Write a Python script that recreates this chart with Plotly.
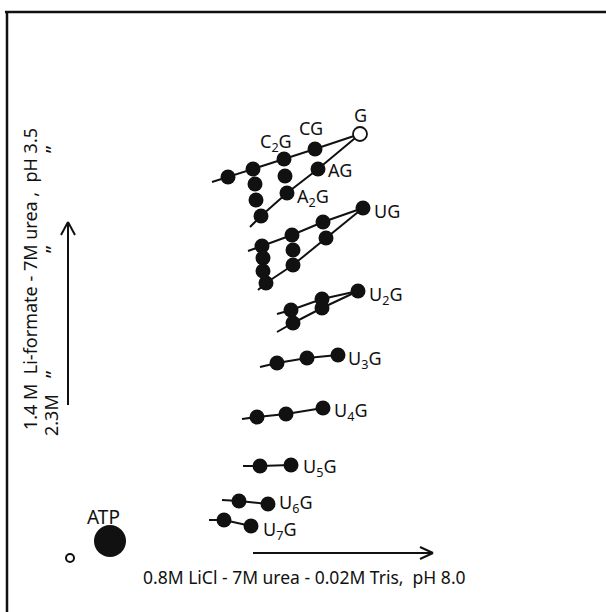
import plotly.graph_objects as go

# ---- data (positions on the fingerprint, in image units: x = 1st dimension, y = 2nd dimension, down = larger) ----
# oligonucleotide spots (filled)
spot_x = [228, 253, 284, 315, 318, 287, 261, 255, 256, 285,
          262, 292, 323, 363, 326, 293, 266, 263, 263, 293,
          291, 322, 322, 293, 358,
          277, 307, 338,
          257, 286, 323,
          260, 291,
          239, 268,
          224, 251]
spot_y = [177, 169, 159, 149, 169, 193, 216, 184, 200, 176,
          246, 235, 222, 208, 238, 265, 283, 258, 271, 250,
          310, 299, 308, 323, 291,
          363, 358, 355,
          417, 414, 408,
          466, 465,
          501, 504,
          520, 526]

# open marker for G
g_x = [360]
g_y = [134]

# connecting lines (each list: ordered points along a line)
lines = {
    "C_series": ([212, 228, 253, 284, 315, 360], [182, 177, 169, 159, 149, 134]),
    "A_series": ([360, 318, 287, 261, 250], [134, 169, 193, 216, 227]),
    "UG_upper": ([248, 262, 292, 323, 363], [251, 246, 235, 222, 208]),
    "UG_lower": ([258, 266, 293, 326, 363], [290, 283, 265, 238, 208]),
    "U2G_upper": ([277, 291, 322, 358], [314, 310, 299, 291]),
    "U2G_lower": ([277, 293, 322, 358], [332, 323, 308, 291]),
    "U3G": ([260, 277, 307, 338], [367, 363, 358, 355]),
    "U4G": ([242, 257, 286, 323], [419, 417, 414, 408]),
    "U5G": ([243, 260, 291], [466, 466, 465]),
    "U6G": ([222, 239, 268], [500, 501, 504]),
    "U7G": ([209, 224, 251], [520, 520, 526]),
}

# labels
label_text = ["G", "CG", "C<sub>2</sub>G", "AG", "A<sub>2</sub>G", "UG", "U<sub>2</sub>G",
              "U<sub>3</sub>G", "U<sub>4</sub>G", "U<sub>5</sub>G", "U<sub>6</sub>G", "U<sub>7</sub>G"]
label_x = [360, 311, 276, 326, 295, 372, 367, 346, 332, 301, 277, 261]
label_y = [115, 128, 142, 170, 197, 211, 295, 359, 411, 467, 503, 530]
label_anchor = ["center", "center", "center", "left", "left", "left", "left",
                "left", "left", "left", "left", "left"]

# markers (ATP and origin)
atp_x, atp_y = [110], [541]
origin_x, origin_y = [70], [558]

FONT = "Noto Sans"
INK = "#111111"

fig = go.Figure()

for name, (lx, ly) in lines.items():
    fig.add_trace(go.Scatter(x=lx, y=ly, mode="lines",
                             line=dict(color=INK, width=2), hoverinfo="skip"))

fig.add_trace(go.Scatter(x=spot_x, y=spot_y, mode="markers",
                         marker=dict(size=15, color=INK, line=dict(width=0))))
fig.add_trace(go.Scatter(x=g_x, y=g_y, mode="markers",
                         marker=dict(size=14, color="white", line=dict(width=1.8, color=INK))))
fig.add_trace(go.Scatter(x=atp_x, y=atp_y, mode="markers",
                         marker=dict(size=32, color=INK, line=dict(width=0))))
fig.add_trace(go.Scatter(x=origin_x, y=origin_y, mode="markers",
                         marker=dict(size=8, color="white", line=dict(width=2, color=INK))))

annotations = []
for t, x, y, a in zip(label_text, label_x, label_y, label_anchor):
    annotations.append(dict(x=x, y=y, xref="x", yref="y", text=t, showarrow=False,
                            xanchor=a, yanchor="middle",
                            font=dict(family=FONT, size=18, color=INK)))

annotations.append(dict(x=103, y=517, xref="x", yref="y", text="ATP", showarrow=False,
                        font=dict(family=FONT, size=19, color=INK)))
annotations.append(dict(x=304, y=577, xref="x", yref="y",
                        text="0.8M LiCl - 7M urea - 0.02M Tris,  pH 8.0", showarrow=False,
                        font=dict(family=FONT, size=17.5, color=INK)))
annotations.append(dict(x=30, y=279, xref="x", yref="y",
                        text="1.4 M  Li-formate - 7M urea ,  pH 3.5", showarrow=False,
                        textangle=-90, font=dict(family=FONT, size=18, color=INK)))
annotations.append(dict(x=51, y=415, xref="x", yref="y", text="2.3M", showarrow=False,
                        textangle=-90, font=dict(family=FONT, size=18, color=INK)))
for yy in [150, 250, 375]:
    annotations.append(dict(x=52, y=yy, xref="x", yref="y", text="\u201d", showarrow=False,
                            textangle=-90, font=dict(family=FONT, size=20, color=INK)))

shapes = [
    # frame (top and left)
    dict(type="line", xref="x", yref="y", x0=5, x1=606, y0=12, y1=12, line=dict(color=INK, width=2.5)),
    dict(type="line", xref="x", yref="y", x0=7, x1=7, y0=12, y1=612, line=dict(color=INK, width=2.5)),
    # vertical arrow
    dict(type="line", xref="x", yref="y", x0=68, x1=68, y0=405, y1=223, line=dict(color=INK, width=2)),
    dict(type="line", xref="x", yref="y", x0=61, x1=68, y0=235, y1=222, line=dict(color=INK, width=2)),
    dict(type="line", xref="x", yref="y", x0=75, x1=68, y0=235, y1=222, line=dict(color=INK, width=2)),
    # horizontal arrow
    dict(type="line", xref="x", yref="y", x0=253, x1=432, y0=553, y1=553, line=dict(color=INK, width=2)),
    dict(type="line", xref="x", yref="y", x0=420, x1=433, y0=547, y1=553, line=dict(color=INK, width=2)),
    dict(type="line", xref="x", yref="y", x0=420, x1=433, y0=559, y1=553, line=dict(color=INK, width=2)),
]

fig.update_layout(
    width=606, height=612,
    margin=dict(l=0, r=0, t=0, b=0),
    paper_bgcolor="white", plot_bgcolor="white",
    showlegend=False,
    xaxis=dict(range=[0, 606], visible=False, fixedrange=True),
    yaxis=dict(range=[612, 0], visible=False, fixedrange=True),
    annotations=annotations,
    shapes=shapes,
)

fig.write_html("out.html")
